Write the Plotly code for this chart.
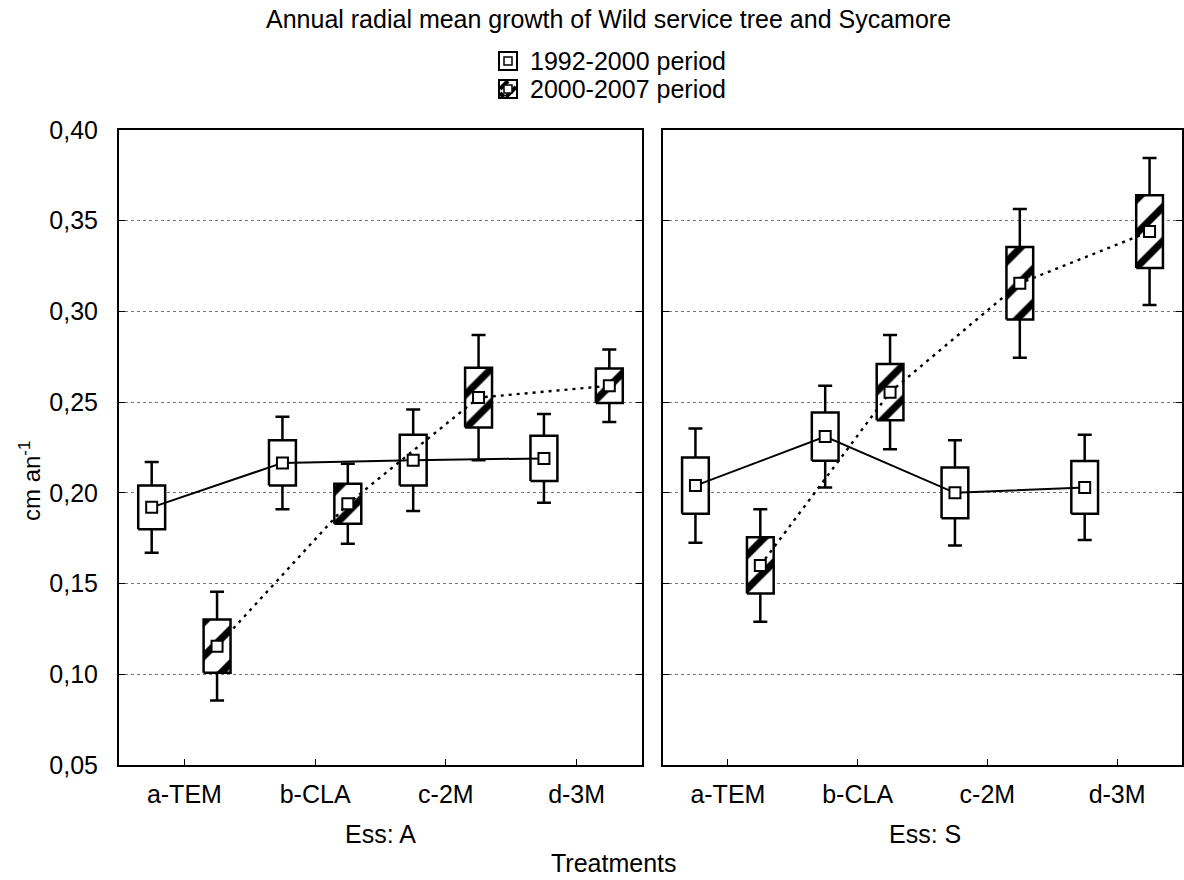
import plotly.graph_objects as go

# ---------------- data ----------------
categories = ["a-TEM", "b-CLA", "c-2M", "d-3M"]
panels = ["Ess: A", "Ess: S"]
series_names = ["1992-2000 period", "2000-2007 period"]

# Ess: A
mean_92_A = [0.192, 0.2165, 0.218, 0.219]
box_92_A = [0.012, 0.0125, 0.014, 0.0125]
whisk_92_A = [0.025, 0.0255, 0.028, 0.0245]
mean_00_A = [0.1155, 0.194, 0.2525, 0.259]
box_00_A = [0.0147, 0.011, 0.0165, 0.0095]
whisk_00_A = [0.030, 0.022, 0.0345, 0.020]

# Ess: S
mean_92_S = [0.204, 0.231, 0.200, 0.203]
box_92_S = [0.0155, 0.0133, 0.014, 0.0145]
whisk_92_S = [0.0315, 0.028, 0.029, 0.029]
mean_00_S = [0.160, 0.2555, 0.3155, 0.344]
box_00_S = [0.0155, 0.0155, 0.020, 0.020]
whisk_00_S = [0.031, 0.0315, 0.041, 0.0405]

y_ticks = [0.05, 0.10, 0.15, 0.20, 0.25, 0.30, 0.35, 0.40]

# ---------------- style ----------------
FONT = "Liberation Sans, Arial, sans-serif"
W, H = 1184, 880
OFFSET = 0.25      # horizontal shift of each period from the category centre
HALF_W = 0.103     # half width of a box (axis units)
HATCH = dict(shape="/", fgcolor="black", bgcolor="white", size=24,
             solidity=0.3, fgopacity=1, fillmode="replace")

def px(x):
    return x / W

def py(y):
    return 1 - y / H

fig = go.Figure()

def box_path(means, halves, shift):
    xs, ys = [], []
    for i, (m, h) in enumerate(zip(means, halves)):
        c = i + shift
        xs += [c - HALF_W, c + HALF_W, c + HALF_W, c - HALF_W, c - HALF_W, None]
        ys += [m - h, m - h, m + h, m + h, m - h, None]
    return xs, ys

data = {
    "x": [(mean_92_A, box_92_A, whisk_92_A), (mean_00_A, box_00_A, whisk_00_A)],
    "x2": [(mean_92_S, box_92_S, whisk_92_S), (mean_00_S, box_00_S, whisk_00_S)],
}

for xa, ya in [("x", "y"), ("x2", "y2")]:
    groups = data[xa]
    # whiskers (drawn first, boxes cover the inner part)
    for k, (m, b, w) in enumerate(groups):
        shift = -OFFSET if k == 0 else OFFSET
        fig.add_trace(go.Scatter(
            x=[i + shift for i in range(len(categories))], y=m,
            xaxis=xa, yaxis=ya, mode="markers",
            marker=dict(size=1, color="rgba(0,0,0,0)"),
            error_y=dict(type="data", array=w, color="black", thickness=2.5, width=7),
            showlegend=False, hoverinfo="skip"))
    # boxes
    for k, (m, b, w) in enumerate(groups):
        shift = -OFFSET if k == 0 else OFFSET
        bx, by = box_path(m, b, shift)
        kw = dict(fillcolor="white")
        if k == 1:
            kw["fillpattern"] = HATCH
        fig.add_trace(go.Scatter(
            x=bx, y=by, xaxis=xa, yaxis=ya, mode="lines", fill="toself",
            line=dict(color="black", width=2.5),
            name=series_names[k], showlegend=False,
            hoverinfo="skip", **kw))
    # mean lines and markers
    for k, (m, b, w) in enumerate(groups):
        shift = -OFFSET if k == 0 else OFFSET
        fig.add_trace(go.Scatter(
            x=[i + shift for i in range(len(categories))], y=m,
            xaxis=xa, yaxis=ya, mode="lines+markers",
            line=dict(color="black", width=2 if k == 0 else 2.4,
                      dash="solid" if k == 0 else "3px,5px"),
            marker=dict(symbol="square", size=11, color="white",
                        line=dict(color="black", width=2)),
            name=series_names[k], showlegend=False))

axis_common = dict(
    range=[-0.5, 3.5], tickmode="array", tickvals=list(range(len(categories))),
    ticktext=categories, ticks="inside", ticklen=6, tickcolor="black",
    showline=True, linecolor="black", linewidth=2, mirror=True,
    showgrid=False, zeroline=False, automargin=False,
    tickfont=dict(family=FONT, size=25, color="black"), ticklabelstandoff=6,
)
yaxis_common = dict(
    range=[0.05, 0.40], tickmode="array", tickvals=y_ticks,
    tickformat=".2f", ticks="inside", ticklen=6, tickcolor="black",
    showline=True, linecolor="black", linewidth=2, mirror="ticks",
    showgrid=True, gridcolor="#777777", griddash="dot", gridwidth=1,
    zeroline=False, automargin=False,
    domain=[py(765), py(130)],
)

fig.update_layout(
    width=W, height=H,
    margin=dict(l=0, r=0, t=0, b=0, autoexpand=False),
    paper_bgcolor="white", plot_bgcolor="white",
    separators=",.",
    font=dict(family=FONT, size=20, color="black"),
    xaxis=dict(domain=[px(119), px(642)], anchor="y", **axis_common),
    xaxis2=dict(domain=[px(663), px(1182)], anchor="y2", **axis_common),
    yaxis=dict(anchor="x", tickfont=dict(family=FONT, size=25, color="black"),
               ticklabelstandoff=14, **yaxis_common),
    yaxis2=dict(anchor="x2", matches="y", showticklabels=False, **yaxis_common),
    showlegend=False,
)

annotations = [
    dict(text="Annual radial mean growth of Wild service tree and Sycamore",
         x=px(608), y=py(19), font=dict(size=25)),
    dict(text=panels[0], x=px(381), y=py(834), font=dict(size=25)),
    dict(text=panels[1], x=px(925), y=py(834), font=dict(size=25)),
    dict(text="Treatments", x=px(614), y=py(863), font=dict(size=25)),
    dict(text="cm an<sup>-1</sup>", x=px(30), y=py(481),
         textangle=-90, font=dict(size=24)),
    # legend texts
    dict(text=series_names[0], x=px(528), y=py(61), xanchor="left", font=dict(size=25)),
    dict(text=series_names[1], x=px(528), y=py(89), xanchor="left", font=dict(size=25)),
]
for a in annotations:
    a.setdefault("xanchor", "center")
    a.update(xref="paper", yref="paper", showarrow=False, yanchor="middle")
fig.update_layout(annotations=annotations)

# legend symbols (box with the mean square inside; hatched for 2000-2007)
shapes = []
for k, cy in enumerate([61, 89]):
    x0, x1, y0, y1 = 499, 517, cy - 9, cy + 9
    shapes.append(dict(type="rect", x0=px(x0), x1=px(x1), y0=py(y1), y1=py(y0),
                       fillcolor="white", line=dict(color="black", width=2)))
    if k == 1:
        for (ax, ay, bx, by) in [(x0 + 1, y1 - 5, x0 + 5, y1 - 1),
                                 (x0 + 1, y0 + 9, x0 + 9, y0 + 1),
                                 (x0 + 7, y1 - 1, x1 - 1, y0 + 7)]:
            shapes.append(dict(type="line", x0=px(ax), y0=py(ay), x1=px(bx), y1=py(by),
                               line=dict(color="black", width=4)))
    shapes.append(dict(type="rect", x0=px(x0 + 5), x1=px(x1 - 5), y0=py(y1 - 5),
                       y1=py(y0 + 5), fillcolor="white",
                       line=dict(color="black", width=1.5)))
for s in shapes:
    s.update(xref="paper", yref="paper", layer="above")
fig.update_layout(shapes=shapes)

fig.write_html("out.html")
